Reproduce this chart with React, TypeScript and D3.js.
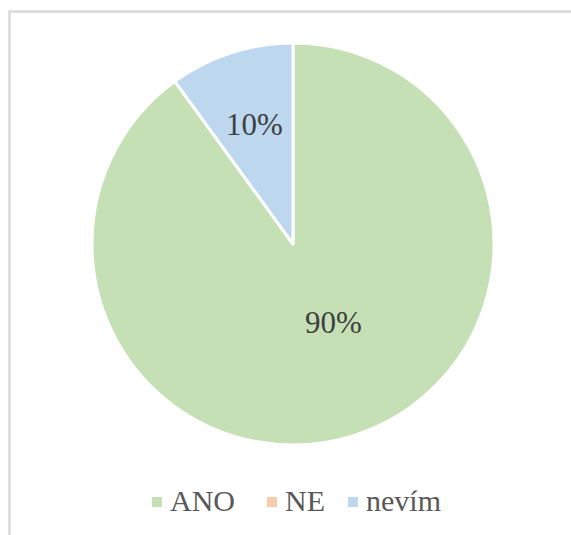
import React from "react";
import * as d3 from "d3";

const categories = ["ANO", "NE", "nevím"];
const values = [90, 0, 10];
const colors = ["#c5e0b4", "#f8cbad", "#bdd7ee"];

const W = 571;
const H = 535;
const cx = 293;
const cy = 244;
const R = 201;
const FONT = "'Liberation Serif', 'Times New Roman', serif";

export default function App() {
  const pie = d3.pie<number>().sort(null).value((d) => d);
  const arcs = pie(values);
  const arc = d3.arc<d3.PieArcDatum<number>>().innerRadius(0).outerRadius(R);
  const total = d3.sum(values);

  const legendX = [152, 267, 348];

  return (
    <svg
      width={W}
      height={H}
      style={{ position: "absolute", left: 0, top: 0, background: "#fff" }}
    >
      <rect x={9.5} y={11.5} width={W + 20} height={H + 20} fill="#fff" stroke="#d9d9d9" strokeWidth={2.5} />
      <g transform={`translate(${cx},${cy})`}>
        {arcs.map((a, i) =>
          a.value > 0 ? (
            <path key={i} d={arc(a) || ""} fill={colors[i]} stroke="#fff" strokeWidth={3} strokeLinejoin="round" />
          ) : null
        )}
        {arcs.map((a, i) => {
          if (a.value <= 0) return null;
          const frac = a.value / total;
          const lr = frac > 0.5 ? R * 0.44 : R * 0.62;
          const mid = (a.startAngle + a.endAngle) / 2 - (frac > 0.5 ? 0.16 : 0);
          const x = Math.sin(mid) * lr;
          const y = -Math.cos(mid) * lr;
          return (
            <text key={i} x={x} y={y + 10} textAnchor="middle" fontSize={31} fill="#404040" style={{ fontFamily: FONT }}>
              {`${Math.round(frac * 100)}%`}
            </text>
          );
        })}
      </g>
      <g>
        {categories.map((c, i) => (
          <g key={c} transform={`translate(${legendX[i]},511)`}>
            <rect x={0} y={-14} width={10} height={10} fill={colors[i]} />
            <text x={18} y={0} fontSize={30} fill="#595959" style={{ fontFamily: FONT }}>
              {c}
            </text>
          </g>
        ))}
      </g>
    </svg>
  );
}
